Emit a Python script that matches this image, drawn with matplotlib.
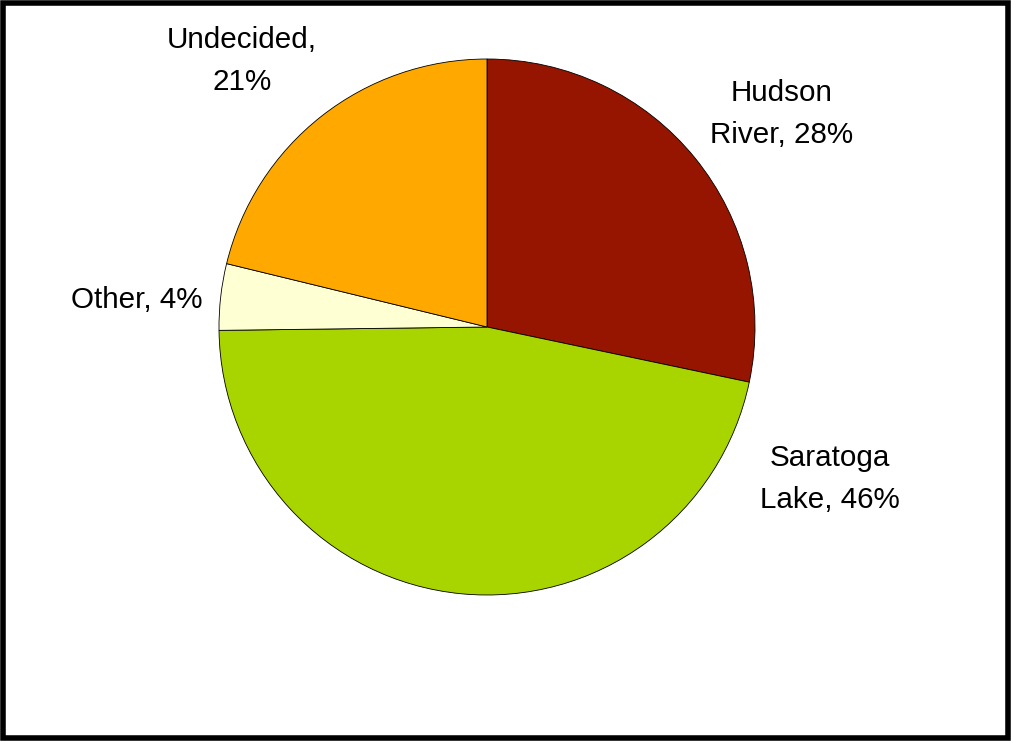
import matplotlib
matplotlib.use('Agg')
import matplotlib.pyplot as plt
from matplotlib.patches import Rectangle

# slice data, clockwise from 12 o'clock
names = ['Hudson\nRiver, 28%', 'Saratoga\nLake, 46%', 'Other, 4%', 'Undecided,\n21%']
shares = [28.3, 46.5, 4.0, 21.2]
colors = ['#951500', '#a8d400', '#ffffd4', '#ffa800']

# where the labels sit (pixels from top-left)
label_pos = [(782, 114), (830, 479), (137, 300), (242, 61)]

W, H = 1011, 741
fig = plt.figure(figsize=(W / 100, H / 100), dpi=100)
ax = fig.add_axes([0, 0, 1, 1])

ax.pie(shares, colors=colors, startangle=90, counterclock=False,
       center=(487, H - 327), radius=268,
       wedgeprops=dict(edgecolor='black', linewidth=0.6), frame=True)
ax.set_xlim(0, W)
ax.set_ylim(0, H)
ax.set_aspect('equal')
ax.axis('off')

for txt, (x, y) in zip(names, label_pos):
    ax.text(x, H - y, txt, ha='center', va='center', fontsize=21.3,
            family='Liberation Sans', linespacing=1.6)

# thick outer frame
ax.add_patch(Rectangle((2.7, 2.7), W - 5.4, H - 5.4, fill=False,
                       edgecolor='black', linewidth=4))

fig.savefig('out.png', dpi=100)
